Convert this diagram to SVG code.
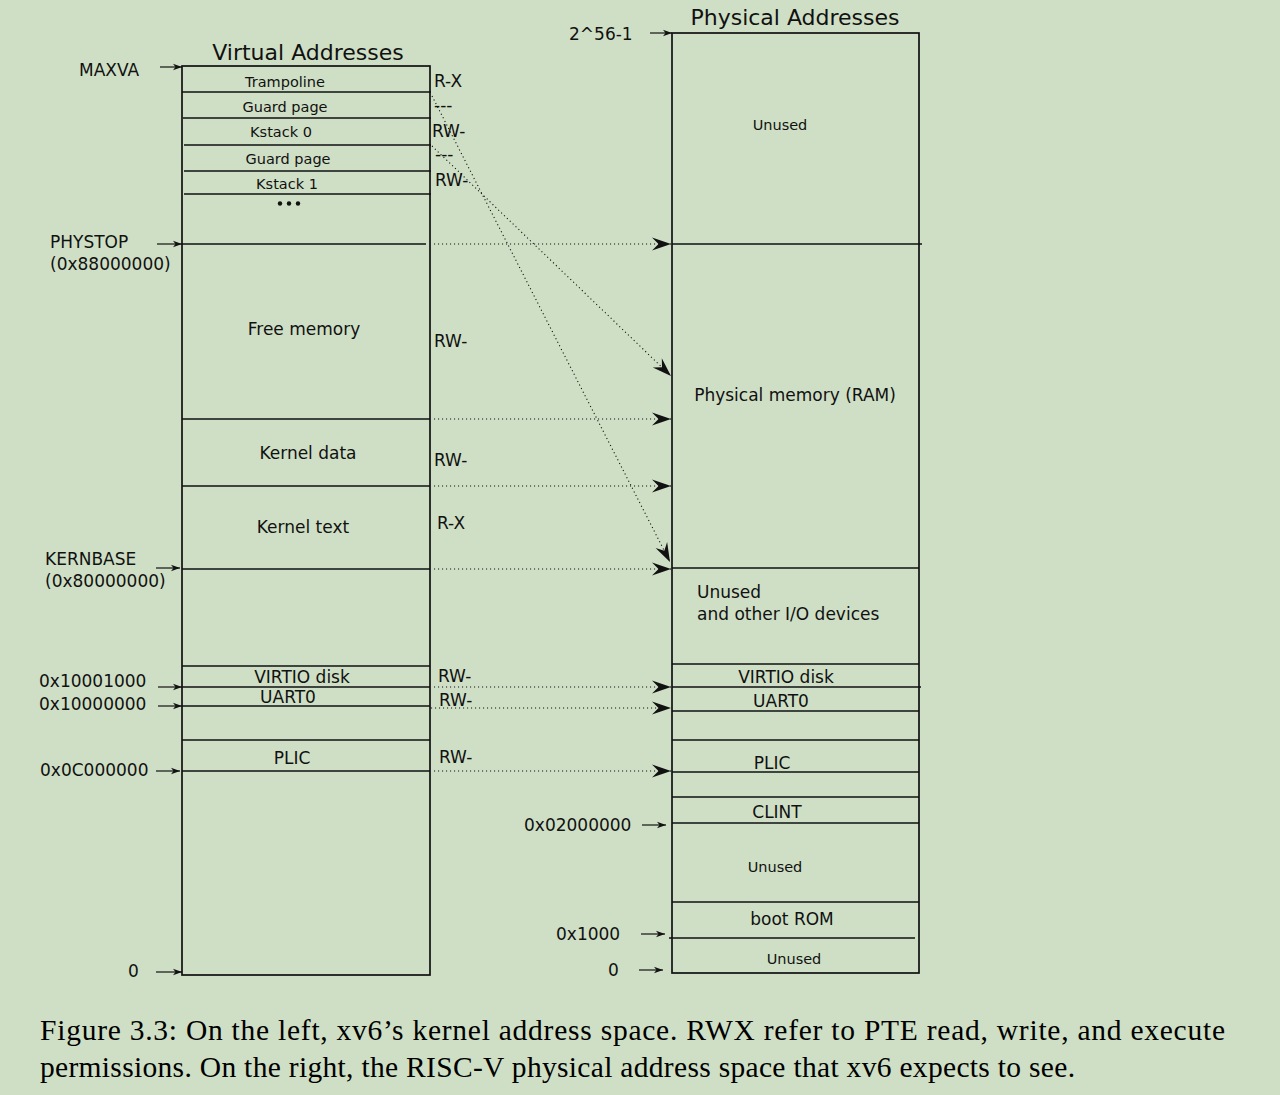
<svg xmlns="http://www.w3.org/2000/svg" width="1280" height="1095" viewBox="0 0 1280 1095">
<style>
.bg{fill:#cfdfc5}
.box{fill:none;stroke:#111;stroke-width:1.7}
.ln{stroke:#111;stroke-width:1.5;fill:none}
.t{font-family:"DejaVu Sans",Verdana,sans-serif;fill:#111}
.s{font-size:14.5px}
.m{font-size:17px}
.h{font-size:22px}
.c{text-anchor:middle}
.cap{font-family:"Liberation Serif","Times New Roman",serif;font-size:29.5px;fill:#000}
.dot{stroke:#111;stroke-width:1.1;stroke-dasharray:1.1 2.9;fill:none}
.pa{stroke:#111;stroke-width:1.2;fill:none}
</style>
<defs>
<marker id="ba" markerUnits="userSpaceOnUse" markerWidth="24" markerHeight="16" viewBox="-20 -8 21 16" refX="0" refY="0" orient="auto">
<path d="M0,0 L-19,-6.5 L-12.5,0 L-19,6.5 Z" fill="#111" stroke="none"/>
</marker>
<marker id="sa" markerUnits="userSpaceOnUse" markerWidth="12" markerHeight="10" viewBox="-10 -5 11 10" refX="0" refY="0" orient="auto">
<path d="M0,0 L-9,-3.3 L-6.5,0 L-9,3.3 Z" fill="#111" stroke="none"/>
</marker>
</defs>
<rect class="bg" x="0" y="0" width="1280" height="1095"/>

<g id="virtual">
<text class="t h c" x="308" y="60">Virtual Addresses</text>
<rect class="box" x="182" y="66" width="248" height="909"/>
<line class="ln" x1="182" y1="92" x2="431" y2="92"/>
<line class="ln" x1="183" y1="118" x2="431" y2="118"/>
<line class="ln" x1="184" y1="145" x2="431" y2="145"/>
<line class="ln" x1="184" y1="171" x2="431" y2="171"/>
<line class="ln" x1="184" y1="194" x2="431" y2="194"/>
<line class="ln" x1="182" y1="244" x2="426" y2="244"/>
<line class="ln" x1="182" y1="419" x2="430" y2="419"/>
<line class="ln" x1="182" y1="486" x2="430" y2="486"/>
<line class="ln" x1="182" y1="569" x2="430" y2="569"/>
<line class="ln" x1="182" y1="666" x2="430" y2="666"/>
<line class="ln" x1="182" y1="687" x2="430" y2="687"/>
<line class="ln" x1="182" y1="706" x2="430" y2="706"/>
<line class="ln" x1="182" y1="740" x2="430" y2="740"/>
<line class="ln" x1="182" y1="771" x2="430" y2="771"/>
<text class="t s c" x="285" y="87">Trampoline</text>
<text class="t s c" x="285" y="112">Guard page</text>
<text class="t s c" x="281" y="137">Kstack 0</text>
<text class="t s c" x="288" y="164">Guard page</text>
<text class="t s c" x="287" y="189">Kstack 1</text>
<circle cx="280" cy="203.5" r="2.2" fill="#111"/>
<circle cx="289" cy="203.5" r="2.2" fill="#111"/>
<circle cx="298" cy="203.5" r="2.2" fill="#111"/>
<text class="t m c" x="304" y="335">Free memory</text>
<text class="t m c" x="308" y="459">Kernel data</text>
<text class="t m c" x="303" y="533">Kernel text</text>
<text class="t m c" x="302" y="683">VIRTIO disk</text>
<text class="t m c" x="288" y="703">UART0</text>
<text class="t m c" x="292" y="764">PLIC</text>
</g>

<g id="perms">
<text class="t m" x="434" y="87">R-X</text>
<text class="t m" x="434" y="111">---</text>
<text class="t m" x="432" y="137">RW-</text>
<text class="t m" x="435" y="160">---</text>
<text class="t m" x="435" y="186">RW-</text>
<text class="t m" x="434" y="347">RW-</text>
<text class="t m" x="434" y="466">RW-</text>
<text class="t m" x="437" y="529">R-X</text>
<text class="t m" x="438" y="682">RW-</text>
<text class="t m" x="439" y="706">RW-</text>
<text class="t m" x="439" y="763">RW-</text>
</g>

<g id="vlabels">
<text class="t m" x="79" y="76">MAXVA</text>
<text class="t m" x="50" y="248">PHYSTOP</text>
<text class="t m" x="50" y="270">(0x88000000)</text>
<text class="t m" x="45" y="565">KERNBASE</text>
<text class="t m" x="45" y="587">(0x80000000)</text>
<text class="t m" x="39" y="687">0x10001000</text>
<text class="t m" x="39" y="710">0x10000000</text>
<text class="t m" x="40" y="776">0x0C000000</text>
<text class="t m" x="128" y="977">0</text>
</g>

<g id="physical">
<text class="t h c" x="795" y="25">Physical Addresses</text>
<rect class="box" x="672" y="33" width="247" height="940"/>
<line class="ln" x1="672" y1="244" x2="922" y2="244"/>
<line class="ln" x1="672" y1="568" x2="919" y2="568"/>
<line class="ln" x1="672" y1="664" x2="919" y2="664"/>
<line class="ln" x1="672" y1="687" x2="921" y2="687"/>
<line class="ln" x1="672" y1="711" x2="919" y2="711"/>
<line class="ln" x1="672" y1="740" x2="919" y2="740"/>
<line class="ln" x1="672" y1="772" x2="919" y2="772"/>
<line class="ln" x1="672" y1="797" x2="919" y2="797"/>
<line class="ln" x1="672" y1="823" x2="919" y2="823"/>
<line class="ln" x1="672" y1="902" x2="919" y2="902"/>
<line class="ln" x1="669" y1="938" x2="915" y2="938"/>
<text class="t s c" x="780" y="130">Unused</text>
<text class="t m c" x="795" y="401">Physical memory (RAM)</text>
<text class="t m" x="697" y="598">Unused</text>
<text class="t m" x="697" y="620">and other I/O devices</text>
<text class="t m c" x="786" y="683">VIRTIO disk</text>
<text class="t m c" x="781" y="707">UART0</text>
<text class="t m c" x="772" y="769">PLIC</text>
<text class="t m c" x="777" y="818">CLINT</text>
<text class="t s c" x="775" y="872">Unused</text>
<text class="t m c" x="792" y="925">boot ROM</text>
<text class="t s c" x="794" y="964">Unused</text>
</g>

<g id="plabels">
<text class="t m" x="569" y="40">2^56-1</text>
<text class="t m" x="524" y="831">0x02000000</text>
<text class="t m" x="556" y="940">0x1000</text>
<text class="t m" x="608" y="976">0</text>
</g>

<g id="connectors">
<line class="pa" x1="160" y1="67" x2="182" y2="67" marker-end="url(#sa)"/>
<line class="pa" x1="650" y1="33" x2="672" y2="33" marker-end="url(#sa)"/>
<line class="pa" x1="157" y1="244" x2="182" y2="244" marker-end="url(#sa)"/>
<line class="pa" x1="156" y1="568" x2="180" y2="568" marker-end="url(#sa)"/>
<line class="pa" x1="158" y1="687" x2="182" y2="687" marker-end="url(#sa)"/>
<line class="pa" x1="158" y1="706" x2="182" y2="706" marker-end="url(#sa)"/>
<line class="pa" x1="156" y1="771" x2="180" y2="771" marker-end="url(#sa)"/>
<line class="pa" x1="156" y1="972" x2="182" y2="972" marker-end="url(#sa)"/>
<line class="pa" x1="642" y1="825" x2="666" y2="825" marker-end="url(#sa)"/>
<line class="pa" x1="641" y1="934" x2="665" y2="934" marker-end="url(#sa)"/>
<line class="pa" x1="639" y1="970" x2="663" y2="970" marker-end="url(#sa)"/>

<line class="dot" x1="434" y1="244" x2="671" y2="244" marker-end="url(#ba)"/>
<line class="dot" x1="434" y1="419" x2="671" y2="419" marker-end="url(#ba)"/>
<line class="dot" x1="434" y1="486" x2="671" y2="486" marker-end="url(#ba)"/>
<line class="dot" x1="434" y1="569" x2="671" y2="569" marker-end="url(#ba)"/>
<line class="dot" x1="434" y1="687" x2="671" y2="687" marker-end="url(#ba)"/>
<line class="dot" x1="431" y1="708" x2="671" y2="708" marker-end="url(#ba)"/>
<line class="dot" x1="434" y1="771" x2="671" y2="771" marker-end="url(#ba)"/>
<line class="dot" x1="432" y1="96" x2="670" y2="562" marker-end="url(#ba)"/>
<line class="dot" x1="432" y1="146" x2="671" y2="376" marker-end="url(#ba)"/>
</g>

<g id="caption">
<text class="cap" x="40" y="1040" textLength="1185" lengthAdjust="spacing">Figure 3.3: On the left, xv6’s kernel address space. RWX refer to PTE read, write, and execute</text>
<text class="cap" x="40" y="1077" textLength="1035" lengthAdjust="spacing">permissions. On the right, the RISC-V physical address space that xv6 expects to see.</text>
</g>
</svg>
